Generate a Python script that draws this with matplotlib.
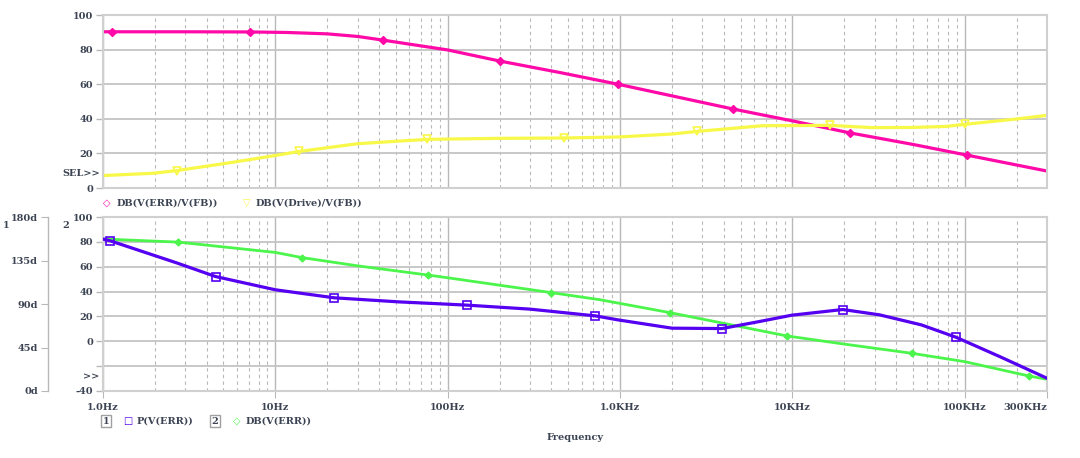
import matplotlib
matplotlib.use('Agg')
import matplotlib.pyplot as plt
from matplotlib.ticker import FixedLocator, NullFormatter

# --- data ---
# top plot: DB(V(ERR)/V(FB))
f_err_fb = [1, 1.13, 3, 7.1, 11.7, 20, 30, 42, 100, 200, 450, 970, 4500, 10000, 21700, 50000, 103000, 300000]
db_err_fb = [90.3, 90.3, 90.3, 90.2, 89.9, 89.1, 87.6, 85.5, 79.8, 73.4, 66.7, 60.0, 45.7, 38.8, 31.8, 25.2, 19.0, 9.8]
mk_err_fb = [1, 3, 7, 9, 11, 12, 14, 16]

# top plot: DB(V(Drive)/V(FB))
f_drive = [1, 1.95, 2.7, 5.7, 10, 13.7, 30, 52, 76, 100, 200, 470, 980, 2000, 2800, 6700,
           16600, 29000, 50000, 78000, 100000, 200000, 300000]
db_drive = [7.2, 8.5, 10.1, 14.9, 18.8, 21.1, 25.6, 27.1, 28.1, 28.3, 28.7, 28.9, 29.5, 31.2, 32.7, 36.0,
            36.2, 34.9, 35.0, 35.6, 36.8, 39.9, 42.0]
mk_drive = [2, 5, 8, 11, 14, 16, 20]

# bottom plot: P(V(ERR)) in degrees (axis 1)
f_phase = [1, 1.1, 2.7, 4.5, 10, 22, 52, 100, 130, 300, 720, 970, 2000, 3900, 6400, 9900,
           19600, 32000, 56000, 89000, 160000, 300000]
ph_err = [157.2, 155.4, 132.3, 118.4, 104.7, 96.4, 92.2, 89.8, 88.8, 84.7, 77.7, 73.6, 65.0, 64.6, 71.8, 78.4,
          84.3, 78.8, 68.4, 55.6, 35.5, 13.2]
mk_phase = [1, 3, 5, 8, 10, 13, 16, 19]

# bottom plot: DB(V(ERR)) (axis 2)
f_err = [1, 2.73, 10, 14.2, 30, 77, 100, 397, 767, 1940, 9300, 19600, 49600, 100000, 235000, 300000]
db_err = [82.3, 79.8, 71.5, 67.4, 60.7, 53.3, 51.1, 39.2, 33.4, 23.1, 4.3, -2.1, -9.7, -16.4, -27.9, -30.6]
mk_err = [1, 3, 5, 7, 9, 10, 12, 14]

xticks = [1, 10, 100, 1000, 10000, 100000, 300000]
xtick_labels = ['1.0Hz', '10Hz', '100Hz', '1.0KHz', '10KHz', '100KHz', '300KHz']

c_pink = '#ff0aa8'
c_yellow = '#f8f848'
c_purple = '#5500f0'
c_green = '#4cf54c'
c_text = '#3c4454'
c_grid = '#b8b8b8'
c_frame = '#d0d0d0'

plt.rcParams['font.family'] = ['DejaVu Serif', 'DejaVu Sans']
plt.rcParams['font.weight'] = 'bold'
plt.rcParams['font.size'] = 7

W, H = 1080, 458
fig = plt.figure(figsize=(W / 100, H / 100), dpi=100)


def px(x, y):
    return x / W, 1 - y / H


ax_t = fig.add_axes([103 / W, 1 - 188 / H, 944 / W, 173 / H])
ax_b = fig.add_axes([103 / W, 1 - 391 / H, 944 / W, 174 / H])

minors = [m * 10 ** d for d in range(0, 6) for m in range(2, 10) if m * 10 ** d < 300000]

for ax in (ax_t, ax_b):
    ax.set_xscale('log')
    ax.set_xlim(1, 300000)
    ax.xaxis.set_major_locator(FixedLocator(xticks))
    ax.xaxis.set_minor_locator(FixedLocator(minors))
    ax.xaxis.set_minor_formatter(NullFormatter())
    ax.grid(which='major', axis='x', color=c_grid, lw=1, ls='-')
    ax.grid(which='minor', axis='x', color=c_grid, lw=0.8, ls=(0, (3, 3)))
    ax.grid(which='major', axis='y', color='#c4c4c4', lw=1.3, ls='-')
    for s in ax.spines.values():
        s.set_color(c_frame)
        s.set_linewidth(1.5)
    ax.tick_params(axis='y', colors=c_text, length=5, width=1, pad=2, color=c_grid)
    ax.tick_params(axis='x', which='minor', length=0)
    ax.set_axisbelow(True)

# top plot
ax_t.plot(f_err_fb, db_err_fb, color=c_pink, lw=2.3, marker='D', ms=4.5,
          markevery=mk_err_fb, mfc=c_pink, mec=c_pink)
ax_t.plot(f_drive, db_drive, color=c_yellow, lw=2.3, marker='v', ms=6,
          markevery=mk_drive, mfc='none', mec=c_yellow, mew=1.2)
ax_t.set_ylim(0, 100)
ax_t.set_yticks([0, 20, 40, 60, 80, 100])
ax_t.tick_params(axis='x', which='major', length=0, labelbottom=False)

# bottom plot, dB axis
ax_b.plot(f_err, db_err, color=c_green, lw=2.0, marker='D', ms=3.5,
          markevery=mk_err, mfc=c_green, mec=c_green)
ax_b.set_ylim(-40, 100)
ax_b.set_yticks([-40, -20, 0, 20, 40, 60, 80, 100])
ax_b.set_yticklabels(['-40', '', '0', '20', '40', '60', '80', '100'])
ax_b.set_xticklabels(xtick_labels)
ax_b.tick_params(axis='x', which='major', length=5, color=c_grid, colors=c_text, pad=4)
ax_b.get_xticklabels()[-1].set_ha('right')

# bottom plot, phase axis
ax_p = ax_b.twinx()
ax_p.plot(f_phase, ph_err, color=c_purple, lw=2.3, marker='s', ms=6,
          markevery=mk_phase, mfc='none', mec=c_purple, mew=1.2)
ax_p.set_ylim(0, 180)
ax_p.set_yticks([0, 45, 90, 135, 180])
ax_p.set_yticklabels(['0d', '45d', '90d', '135d', '180d'])
ax_p.yaxis.tick_left()
for k in ('top', 'right', 'bottom'):
    ax_p.spines[k].set_visible(False)
ax_p.spines['left'].set_visible(True)
ax_p.spines['left'].set_position(('axes', -55 / 944))
ax_p.spines['left'].set_color(c_grid)
ax_p.spines['left'].set_linewidth(1)
ax_p.tick_params(axis='y', colors=c_text, color=c_grid, length=5, pad=2)

# texts
fig.text(*px(100, 174), 'SEL>>', ha='right', va='center', color=c_text)
fig.text(*px(99, 377), '>>', ha='right', va='center', color=c_text)
fig.text(*px(3, 225), '1', ha='left', va='center', color=c_text)
fig.text(*px(62, 225), '2', ha='left', va='center', color=c_text)
fig.text(*px(575, 437), 'Frequency', ha='center', va='center', color=c_text)

# legends
fig.text(*px(107, 203), '\u25c7', ha='center', va='center', color=c_pink, family='DejaVu Sans', fontsize=7)
fig.text(*px(117, 203), 'DB(V(ERR)/V(FB))', ha='left', va='center', color=c_text)
fig.text(*px(247, 203), '\u25bd', ha='center', va='center', color=c_yellow, family='DejaVu Sans', fontsize=7)
fig.text(*px(256, 203), 'DB(V(Drive)/V(FB))', ha='left', va='center', color=c_text)

box = dict(boxstyle='square,pad=0.2', fc='white', ec='#a0a0a0', lw=1)
fig.text(*px(106, 421), '1', ha='center', va='center', color=c_text, bbox=box)
fig.text(*px(128, 421), '\u25a1', ha='center', va='center', color=c_purple, family='DejaVu Sans', fontsize=7)
fig.text(*px(137, 421), 'P(V(ERR))', ha='left', va='center', color=c_text)
fig.text(*px(215, 421), '2', ha='center', va='center', color=c_text, bbox=box)
fig.text(*px(237, 421), '\u25c7', ha='center', va='center', color=c_green, family='DejaVu Sans', fontsize=7)
fig.text(*px(246, 421), 'DB(V(ERR))', ha='left', va='center', color=c_text)

fig.savefig('out.png', dpi=100, facecolor='white')
